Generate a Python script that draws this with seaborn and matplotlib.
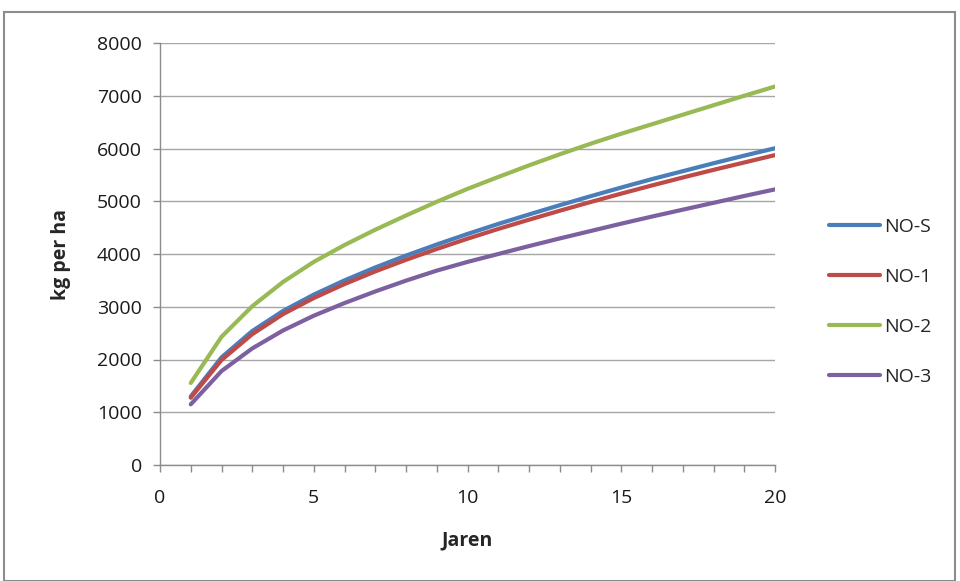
import numpy as np

import pandas as pd

import matplotlib.pyplot as plt

import seaborn as sns

from matplotlib.patches import Rectangle

from matplotlib.ticker import MultipleLocator

years = list(range(1, 21))

no_s = [1300, 2040, 2540, 2920, 3230, 3500, 3745, 3970, 4180, 4380,
        4570, 4750, 4925, 5095, 5260, 5420, 5570, 5720, 5865, 6005]

no_1 = [1275, 1990, 2480, 2860, 3165, 3430, 3670, 3890, 4095, 4290,
        4475, 4650, 4820, 4985, 5145, 5300, 5450, 5595, 5735, 5875]

no_2 = [1555, 2430, 3010, 3470, 3850, 4170, 4460, 4730, 4990, 5235,
        5460, 5680, 5890, 6090, 6280, 6460, 6640, 6820, 7000, 7175]

no_3 = [1150, 1780, 2210, 2550, 2830, 3070, 3290, 3495, 3685, 3850,
        4000, 4150, 4295, 4435, 4575, 4710, 4840, 4970, 5100, 5225]

series_names = ["NO-S", "NO-1", "NO-2", "NO-3"]

colors = ["#4a7ebb", "#be4b48", "#98b954", "#7d60a0"]

df = pd.DataFrame({
    "Jaren": years * 4,
    "kg per ha": no_s + no_1 + no_2 + no_3,
    "serie": np.repeat(series_names, len(years))
})

sns.set_style("white")

plt.rcParams["font.family"] = ["Open Sans", "DejaVu Sans"]

fig = plt.figure(figsize=(9.6, 5.81), dpi=100)

ax = fig.add_axes([160 / 960, 1 - 465 / 581, 615 / 960, 422 / 581])

sns.lineplot(
    data=df,
    x="Jaren",
    y="kg per ha",
    hue="serie",
    hue_order=series_names,
    palette=colors,
    linewidth=3,
    ax=ax
)

for line in ax.get_lines():
    line.set_solid_capstyle("round")
    line.set_solid_joinstyle("round")

ax.set_xlim(0, 20)

ax.set_ylim(0, 8000)

ax.xaxis.set_major_locator(MultipleLocator(5))

ax.xaxis.set_minor_locator(MultipleLocator(1))

ax.yaxis.set_major_locator(MultipleLocator(1000))

ax.grid(axis="y", color="#a6a6a6", linewidth=1)

ax.set_axisbelow(True)

for side in ["top", "right"]:
    ax.spines[side].set_visible(False)

for side in ["left", "bottom"]:
    ax.spines[side].set_color("#8c8c8c")
    ax.spines[side].set_linewidth(1)

ax.tick_params(
    axis="both",
    which="both",
    bottom=True,
    left=True,
    direction="out",
    length=5,
    width=1,
    color="#8c8c8c",
    labelsize=14,
    labelcolor="#1a1a1a"
)

ax.tick_params(axis="y", pad=8)

ax.tick_params(axis="x", pad=12)

ax.set_xlabel("Jaren", fontsize=14, fontweight="bold", labelpad=17)

ax.set_ylabel("kg per ha", fontsize=14, fontweight="bold", labelpad=19)

handles, labels = ax.get_legend_handles_labels()

leg = ax.legend(
    handles,
    labels,
    loc="center left",
    bbox_to_anchor=(1.06, 0.387),
    frameon=False,
    fontsize=14,
    handlelength=2.6,
    handletextpad=0.2,
    labelspacing=1.65
)

for h in leg.get_lines():
    h.set_solid_capstyle("round")

fig.patches.append(
    Rectangle(
        (4 / 960, 0),
        951 / 960,
        1 - 12 / 581,
        transform=fig.transFigure,
        fill=False,
        edgecolor="#8c8c8c",
        linewidth=1.5
    )
)

plt.savefig("out.png", dpi=100)
